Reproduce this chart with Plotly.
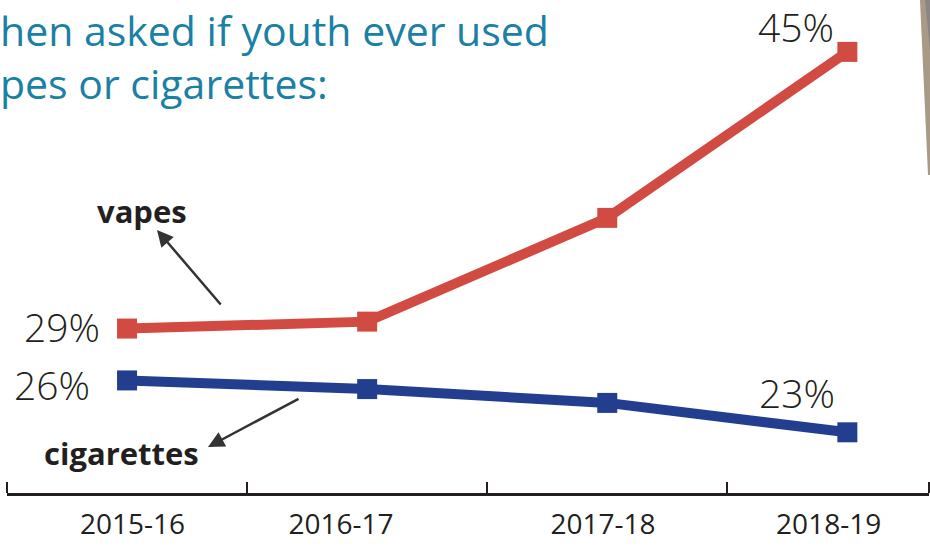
import plotly.graph_objects as go

# ---- data ----
years = ["2015-16", "2016-17", "2017-18", "2018-19"]
vapes = [29, 29.4, 35.4, 45]
cigarettes = [26, 25.5, 24.7, 23]
label_pos = [0.023, 0.891, 1.982, 2.922]   # where the year labels sit on the axis
boundaries = [-0.5, 0.5, 1.5, 2.5, 3.34]  # small tick marks between years
# the heading as it is visible in the reference (cut at the left edge)
title_lines = ["hen asked if youth ever used", "pes or cigarettes:"]

RED = "#D24B43"
BLUE = "#233E8F"
INK = "#231F20"
TEAL = "#1B80A5"

W, H = 930, 550
L, R, T, B = 7, 929, 0, 493
XR = [-0.5, 3.34]
YR = [19.49, 48.0]


def px_x(px):
    return (px - L) / (R - L)


def px_y(py):
    return (B - py) / (B - T)


xs = list(range(len(years)))

fig = go.Figure()
fig.add_trace(go.Scatter(x=xs, y=vapes, mode="lines+markers", name="vapes",
                         line=dict(color=RED, width=10),
                         marker=dict(symbol="square", size=20, color=RED),
                         hoverinfo="skip"))
fig.add_trace(go.Scatter(x=xs, y=cigarettes, mode="lines+markers", name="cigarettes",
                         line=dict(color=BLUE, width=10),
                         marker=dict(symbol="square", size=20, color=BLUE),
                         hoverinfo="skip"))

hand = dict(family="Open Sans, Lato, sans-serif", size=39, color=INK, weight=300)

# value labels next to the end points
value_labels = [
    (0, vapes[0], f"{vapes[0]}%", -65, 2),
    (0, cigarettes[0], f"{cigarettes[0]}%", -75, -4),
    (3, cigarettes[3], f"{cigarettes[3]}%", -50, 40),
    (3, vapes[3], f"{vapes[3]}%", -51, 25),
]
for x, y, txt, dx, dy in value_labels:
    fig.add_annotation(x=x, y=y, xref="x", yref="y", text=txt, showarrow=False,
                       xshift=dx, yshift=dy, font=hand, xanchor="center", yanchor="middle")

# heading, two lines
fig.add_annotation(x=px_x(-2), y=px_y(0), xref="paper", yref="paper",
                   text="<br>".join(title_lines), showarrow=False, align="left",
                   xanchor="left", yanchor="top",
                   font=dict(family="Open Sans, sans-serif", size=41, color=TEAL))

# series name labels with arrows
bold = dict(family="Open Sans, sans-serif", size=31, color=INK, weight="bold")
fig.add_annotation(x=px_x(142), y=px_y(211), xref="paper", yref="paper", text="<b>vapes</b>",
                   showarrow=False, font=bold, xanchor="center", yanchor="middle")
fig.add_annotation(x=px_x(121), y=px_y(453), xref="paper", yref="paper", text="<b>cigarettes</b>",
                   showarrow=False, font=bold, xanchor="center", yanchor="middle")
for (hx, hy, tx, ty) in [(157, 230, 222, 306), (208, 447, 300, 398)]:
    fig.add_annotation(x=px_x(hx), y=px_y(hy), xref="x domain", yref="y domain",
                       ax=px_x(tx), ay=px_y(ty), axref="x domain", ayref="y domain",
                       text="", showarrow=True, arrowhead=2, arrowsize=1.3,
                       arrowwidth=2.5, arrowcolor="#333333")

# photo edge at the right
fig.add_shape(type="path", xref="paper", yref="paper",
              path=f"M {px_x(920)} {px_y(0)} L {px_x(931)} {px_y(0)} L {px_x(931)} {px_y(175)} L {px_x(928)} {px_y(175)} Z",
              fillcolor="#A99A87", line=dict(width=0), layer="above")
fig.add_shape(type="path", xref="paper", yref="paper",
              path=f"M {px_x(925)} {px_y(0)} L {px_x(931)} {px_y(0)} L {px_x(931)} {px_y(60)} Z",
              fillcolor="#8C8585", line=dict(width=0), layer="above")

fig.update_layout(
    width=W, height=H,
    margin=dict(l=L, r=W - R, t=T, b=H - B),
    paper_bgcolor="white", plot_bgcolor="white",
    showlegend=False,
    xaxis=dict(range=XR, tickvals=label_pos, ticktext=years, ticks="",
               showgrid=False, zeroline=False, showline=True, linecolor=INK, linewidth=2.5,
               tickfont=dict(family="Open Sans, sans-serif", size=28, color=INK),
               ticklabelstandoff=5,
               minor=dict(tickvals=boundaries, ticks="inside", ticklen=11,
                          tickwidth=2, tickcolor=INK, showgrid=False)),
    yaxis=dict(range=YR, visible=False, showgrid=False, zeroline=False),
)

fig.write_html("out.html")
